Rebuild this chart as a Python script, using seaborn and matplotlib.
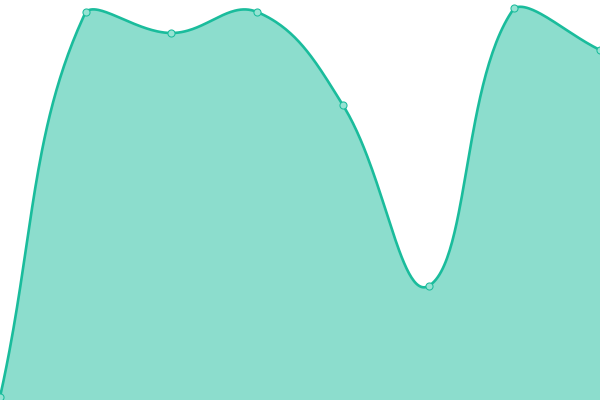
import numpy as np
import matplotlib
matplotlib.use("Agg")
import matplotlib.pyplot as plt
import seaborn as sns
import pandas as pd

# data
labels = [0, 1, 2, 3, 4, 5, 6, 7]
values = [3, 388, 367, 388, 295, 114, 392, 350]

LINE = "#1abc9c"
FILL = (26/255, 188/255, 156/255, 0.5)
POINT_FACE = "#96e3d3"
W, H = 600, 400
TENSION = 0.4

sns.set_theme(style="white")
fig = plt.figure(figsize=(6, 4), dpi=100)
ax = fig.add_axes([0, 0, 1, 1])
xmin, xmax, ymin, ymax = 0, len(labels) - 1, 0, 400

# Smooth curve (Chart.js-like spline) computed in pixel space
px = np.array([(x - xmin) / (xmax - xmin) * W for x in labels], float)
py = np.array([(v - ymin) / (ymax - ymin) * H for v in values], float)
n = len(px)
cps = []
for i in range(n):
    p0 = (px[max(i - 1, 0)], py[max(i - 1, 0)])
    p1 = (px[i], py[i])
    p2 = (px[min(i + 1, n - 1)], py[min(i + 1, n - 1)])
    d01 = np.hypot(p1[0] - p0[0], p1[1] - p0[1])
    d12 = np.hypot(p2[0] - p1[0], p2[1] - p1[1])
    s01 = d01 / (d01 + d12) if d01 + d12 else 0
    s12 = d12 / (d01 + d12) if d01 + d12 else 0
    fa, fb = TENSION * s01, TENSION * s12
    c1 = [p1[0] - fa * (p2[0] - p0[0]), p1[1] - fa * (p2[1] - p0[1])]
    c2 = [p1[0] + fb * (p2[0] - p0[0]), p1[1] + fb * (p2[1] - p0[1])]
    for c in (c1, c2):
        c[0] = min(max(c[0], 0), W)
        c[1] = min(max(c[1], 0), H)
    cps.append((c1, c2))

xs, ys = [], []
t = np.linspace(0, 1, 60)
for i in range(n - 1):
    P0 = np.array([px[i], py[i]])
    P1 = np.array(cps[i][1])
    P2 = np.array(cps[i + 1][0])
    P3 = np.array([px[i + 1], py[i + 1]])
    seg = ((1 - t) ** 3)[:, None] * P0 + (3 * (1 - t) ** 2 * t)[:, None] * P1 \
        + (3 * (1 - t) * t ** 2)[:, None] * P2 + (t ** 3)[:, None] * P3
    xs.extend(seg[:, 0]); ys.extend(seg[:, 1])
xs = np.array(xs) / W * (xmax - xmin) + xmin
ys = np.array(ys) / H * (ymax - ymin) + ymin

curve = pd.DataFrame({"x": xs, "y": ys})
ax.fill_between(xs, ys, ymin, color=FILL, linewidth=0)
sns.lineplot(data=curve, x="x", y="y", ax=ax, color=LINE, linewidth=1.9,
             sort=False, estimator=None)
pts = pd.DataFrame({"x": labels, "y": values})
sns.scatterplot(data=pts, x="x", y="y", ax=ax, s=26, color=POINT_FACE,
                edgecolor=LINE, linewidth=0.75, zorder=5)

ax.set_xlim(xmin, xmax)
ax.set_ylim(ymin, ymax)
ax.axis("off")
fig.savefig("out.png", dpi=100)
